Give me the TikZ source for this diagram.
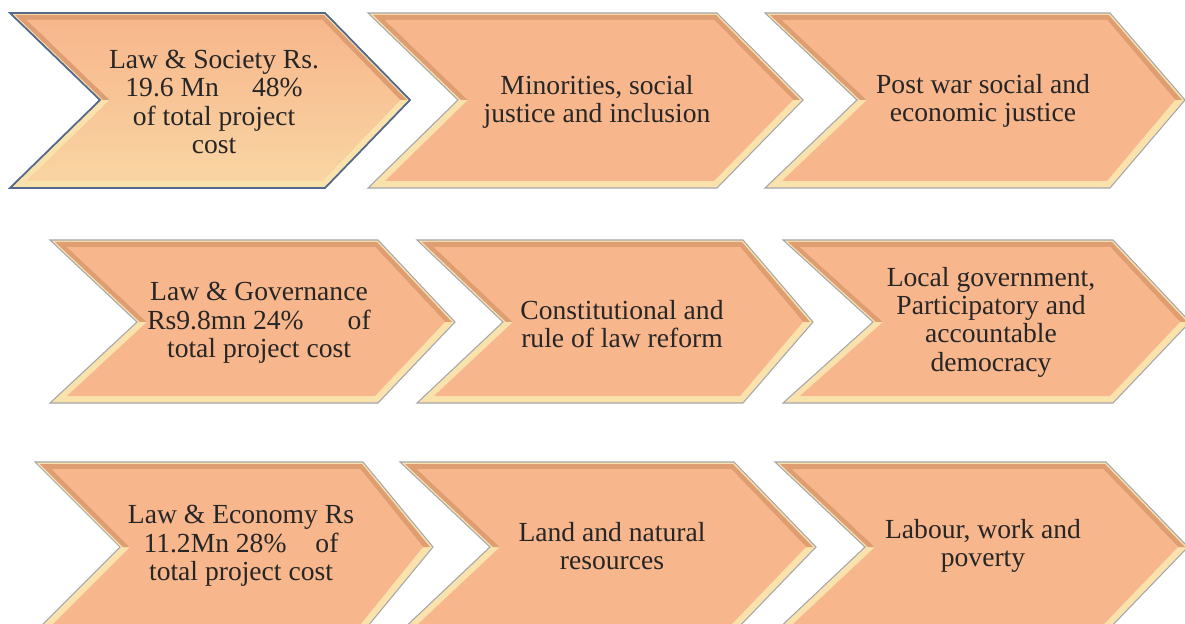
\documentclass[tikz,border=0pt]{standalone}
\usepackage{fontspec}
\setmainfont{Liberation Serif}
\definecolor{chevfill}{RGB}{247,182,140}
\definecolor{chevdark}{RGB}{222,158,114}
\definecolor{chevlight}{RGB}{250,226,172}
\definecolor{chevedge}{RGB}{165,165,170}
\definecolor{firstedge}{RGB}{85,105,140}

\begin{document}
\begin{tikzpicture}
[x=0.02cm,y=-0.02cm,
 chevtext/.style={align=center,font=\fontsize{15.7}{16.1}\selectfont,text=black!85,inner sep=0pt},
 bevel/.style={draw=chevedge,line width=0.6pt,fill=chevlight}]

\clip (0,0) rectangle (1185,624);

% chevrons: left/notch/corner/tip and top/middle/bottom
\foreach \l/\n/\c/\t/\ya/\ym/\yb in
 {10/100/325/410/13/100/188, 368/458/717/803/13/100/188, 765/857/1110/1185/13/100/188,
  50/137/378/455/240/322/403, 417/503/743/813/240/322/403, 783/873/1113/1190/240/322/403,
  35/120/363/433/462/547/632, 400/490/734/816/462/547/632, 775/865/1106/1188/462/547/632}
{
 \draw[bevel] (\l,\ya) -- (\c,\ya) -- (\t,\ym) -- (\c,\yb) -- (\l,\yb) -- (\n,\ym) -- cycle;
 \fill[chevdark] (\l+5,\ya+2) -- (\c-1,\ya+2) -- (\t-3,\ym) -- (\t-10,\ym) -- (\c-3,\ya+7)
   -- (\l+17,\ya+7) -- (\n+10,\ym) -- (\n+3,\ym) -- cycle;
 \fill[chevfill] (\l+17,\ya+7) -- (\c-3,\ya+7) -- (\t-10,\ym) -- (\c-3,\yb-7)
   -- (\l+17,\yb-7) -- (\n+10,\ym) -- cycle;
}

% the first one is glossy, with a blue rim
\shade[top color=chevfill,bottom color=chevlight!70!chevfill]
 (27,20) -- (322,20) -- (400,100) -- (322,181) -- (27,181) -- (110,100) -- cycle;
\draw[firstedge,line width=1pt] (10,13) -- (325,13) -- (410,100) -- (325,188) -- (10,188) -- (100,100) -- cycle;

\node (soc) at (214,102) [chevtext] {Law \& Society Rs.\\19.6 Mn\hspace{1.2em}48\%\\of total project\\cost};
\node (min) at (597,102) [chevtext] {Minorities, social\\justice and inclusion};
\node (post) at (983,101) [chevtext] {Post war social and\\economic justice};

\node (gov) at (259,323) [chevtext] {Law \& Governance\\Rs9.8mn 24\%\hspace{1.6em}of\\total project cost};
\node (con) at (622,324) [chevtext] {Constitutional and\\rule of law reform};
\node (loc) at (991,322) [chevtext] {Local government,\\Participatory and\\accountable\\democracy};

\node (eco) at (241,546) [chevtext] {Law \& Economy Rs\\11.2Mn 28\%\hspace{1.05em}of\\total project cost};
\node (land) at (612,546) [chevtext] {Land and natural\\resources};
\node (lab) at (983,546) [chevtext] {Labour, work and\\poverty};
\end{tikzpicture}
\end{document}
